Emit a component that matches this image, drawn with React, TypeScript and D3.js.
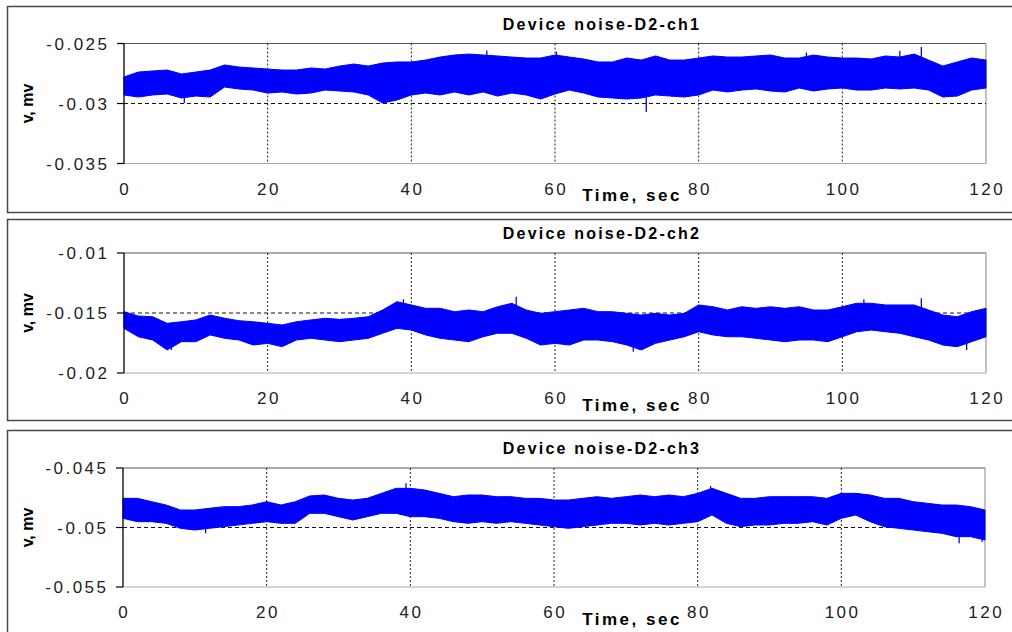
import React from "react";
import * as d3 from "d3";

// sample times (sec) of the envelope readings
const TIMES = [0, 2, 4, 6, 8, 10, 12, 14, 16, 18, 20, 22, 24, 26, 28, 30, 32, 34, 36, 38, 40, 42, 44, 46, 48, 50, 52, 54, 56, 58, 60, 62, 64, 66, 68, 70, 72, 74, 76, 78, 80, 82, 84, 86, 88, 90, 92, 94, 96, 98, 100, 102, 104, 106, 108, 110, 112, 114, 116, 118, 120];

// channel 1 upper / lower noise envelope (mV)
const CH1_HI = [-0.02779, -0.02738, -0.02729, -0.02721, -0.02754, -0.02738, -0.02721, -0.02679, -0.02696, -0.02704, -0.02713, -0.02721, -0.02721, -0.02704, -0.02713, -0.02688, -0.02671, -0.02688, -0.02663, -0.02654, -0.02654, -0.02638, -0.02613, -0.02596, -0.02588, -0.02596, -0.02604, -0.02613, -0.02621, -0.02621, -0.02596, -0.02613, -0.02629, -0.02654, -0.02654, -0.02621, -0.02638, -0.02604, -0.02638, -0.02638, -0.02621, -0.02604, -0.02613, -0.02613, -0.02604, -0.02596, -0.02621, -0.02621, -0.02596, -0.02613, -0.02621, -0.02621, -0.02629, -0.02604, -0.02613, -0.02588, -0.02638, -0.02688, -0.02654, -0.02621, -0.02638];
const CH1_LO = [-0.02929, -0.02946, -0.02929, -0.02921, -0.02954, -0.02938, -0.02946, -0.02863, -0.02879, -0.02888, -0.02913, -0.02904, -0.02921, -0.02913, -0.02888, -0.02896, -0.02904, -0.02929, -0.02996, -0.02971, -0.02929, -0.02913, -0.02929, -0.02904, -0.02929, -0.02904, -0.02938, -0.02913, -0.02929, -0.02963, -0.02921, -0.02888, -0.02913, -0.02946, -0.02954, -0.02963, -0.02954, -0.02929, -0.02938, -0.02946, -0.02929, -0.02888, -0.02904, -0.02888, -0.02879, -0.02896, -0.02904, -0.02871, -0.02896, -0.02879, -0.02871, -0.02888, -0.02888, -0.02871, -0.02879, -0.02871, -0.02888, -0.02946, -0.02938, -0.02888, -0.02871];
// isolated spikes: [time, value]
const CH1_SPIKES: [number, number][] = [[8.4, -0.02996], [50.5, -0.02558], [60.2, -0.02567], [72.7, -0.03071], [95, -0.02575], [108, -0.02563], [111, -0.02529]];

// channel 2
const CH2_HI = [-0.01489, -0.01525, -0.01531, -0.01586, -0.01573, -0.01558, -0.01517, -0.01544, -0.01564, -0.01573, -0.01586, -0.016, -0.01573, -0.01558, -0.01544, -0.01553, -0.01544, -0.01531, -0.01475, -0.01406, -0.01433, -0.01461, -0.01461, -0.01489, -0.01475, -0.01489, -0.01448, -0.01419, -0.01475, -0.01503, -0.01489, -0.01475, -0.01461, -0.01489, -0.01489, -0.01503, -0.01517, -0.01503, -0.01517, -0.01503, -0.01433, -0.01448, -0.01475, -0.01448, -0.01461, -0.01448, -0.01461, -0.01448, -0.01475, -0.01475, -0.01448, -0.01419, -0.01419, -0.01433, -0.01433, -0.01433, -0.01475, -0.01517, -0.01531, -0.01489, -0.01461];
const CH2_LO = [-0.01628, -0.01698, -0.01725, -0.01808, -0.01739, -0.01739, -0.01683, -0.01711, -0.01725, -0.01767, -0.01753, -0.01781, -0.01725, -0.01711, -0.01725, -0.01739, -0.01725, -0.01711, -0.01669, -0.01628, -0.01642, -0.01683, -0.01711, -0.01725, -0.01739, -0.01698, -0.01669, -0.01669, -0.01711, -0.01767, -0.01753, -0.01767, -0.01725, -0.01725, -0.01739, -0.01767, -0.01808, -0.01753, -0.01725, -0.01698, -0.01656, -0.01683, -0.01698, -0.01698, -0.01711, -0.01725, -0.01739, -0.01725, -0.01725, -0.01739, -0.01698, -0.01656, -0.01642, -0.01656, -0.01669, -0.01698, -0.01725, -0.01767, -0.01781, -0.01739, -0.01698];
const CH2_SPIKES: [number, number][] = [[6.6, -0.01808], [38.9, -0.01386], [54.6, -0.01364], [70.9, -0.01822], [103, -0.01386], [111, -0.01378], [117.3, -0.01808]];

// channel 3
const CH3_HI = [-0.04755, -0.04755, -0.04783, -0.04811, -0.04853, -0.04853, -0.04839, -0.04825, -0.04825, -0.04811, -0.04783, -0.04811, -0.04783, -0.04735, -0.04727, -0.04755, -0.04769, -0.04755, -0.04713, -0.04671, -0.04671, -0.04685, -0.04713, -0.04741, -0.04727, -0.04727, -0.04741, -0.04741, -0.04755, -0.04755, -0.04769, -0.04769, -0.04755, -0.04741, -0.04755, -0.04741, -0.04727, -0.04741, -0.04727, -0.04741, -0.04713, -0.04671, -0.04713, -0.04755, -0.04755, -0.04741, -0.04741, -0.04741, -0.04741, -0.04755, -0.04713, -0.04713, -0.04727, -0.04755, -0.04755, -0.04783, -0.04797, -0.04811, -0.04811, -0.04825, -0.04853];
const CH3_LO = [-0.04923, -0.04951, -0.04951, -0.04965, -0.05007, -0.05021, -0.05007, -0.04993, -0.04979, -0.04965, -0.04951, -0.04965, -0.04965, -0.04881, -0.04881, -0.04909, -0.04937, -0.04909, -0.04881, -0.04881, -0.04909, -0.04909, -0.04923, -0.04951, -0.04965, -0.04951, -0.04965, -0.04951, -0.04965, -0.04979, -0.04993, -0.05007, -0.04993, -0.04979, -0.04965, -0.04965, -0.04979, -0.04965, -0.04979, -0.04965, -0.04951, -0.04895, -0.04965, -0.04993, -0.04979, -0.04979, -0.04965, -0.04965, -0.04951, -0.04979, -0.04923, -0.04895, -0.04951, -0.04993, -0.05007, -0.05021, -0.05035, -0.05049, -0.05077, -0.05077, -0.05105];
const CH3_SPIKES: [number, number][] = [[11.5, -0.05049], [39.4, -0.04629], [81.8, -0.04651], [116.4, -0.05133], [119.6, -0.05119]];

const TITLES = ["Device noise-D2-ch1", "Device noise-D2-ch2", "Device noise-D2-ch3"];
const X_TICKS = [0, 20, 40, 60, 80, 100, 120];
const Y_DOMAINS: [number, number][] = [[-0.035, -0.025], [-0.02, -0.01], [-0.055, -0.045]];
const Y_TICKS = [[-0.035, -0.03, -0.025], [-0.02, -0.015, -0.01], [-0.055, -0.05, -0.045]];
const Y_TICK_LABELS = [["-0.035", "-0.03", "-0.025"], ["-0.02", "-0.015", "-0.01"], ["-0.055", "-0.05", "-0.045"]];
const X_LABEL = "Time, sec";
const Y_LABEL = "v, mv";

const SERIES = [
  { hi: CH1_HI, lo: CH1_LO, spikes: CH1_SPIKES },
  { hi: CH2_HI, lo: CH2_LO, spikes: CH2_SPIKES },
  { hi: CH3_HI, lo: CH3_LO, spikes: CH3_SPIKES },
];

const LAYOUT = [
  { boxTop: 6.5, boxBottom: 212.5, top: 43.5, bottom: 163.5, left: 124, right: 986 },
  { boxTop: 219.5, boxBottom: 420.5, top: 253, bottom: 373, left: 124, right: 986 },
  { boxTop: 430.5, boxBottom: 645, top: 468, bottom: 587, left: 123, right: 985 },
];

const FONT = "'Liberation Sans', Arial, Helvetica, sans-serif";

function Panel({ idx }: { idx: number }) {
  const L = LAYOUT[idx];
  const s = SERIES[idx];
  const x = d3.scaleLinear().domain([0, 120]).range([L.left, L.right]);
  const y = d3.scaleLinear().domain(Y_DOMAINS[idx]).range([L.bottom, L.top]);
  const pts = TIMES.map((t, i) => ({ t, hi: s.hi[i], lo: s.lo[i] }));
  const area = d3
    .area<{ t: number; hi: number; lo: number }>()
    .x((d) => x(d.t))
    .y0((d) => y(d.lo))
    .y1((d) => y(d.hi))
    .curve(d3.curveLinear)(pts) as string;
  const midOf = (t: number) => {
    const hi = d3.scaleLinear().domain(TIMES).range(s.hi)(t);
    const lo = d3.scaleLinear().domain(TIMES).range(s.lo)(t);
    return (hi + lo) / 2;
  };
  const ticks = Y_TICKS[idx];
  const mid = ticks[1];
  return (
    <g>
      <rect x={7.5} y={L.boxTop} width={1020} height={L.boxBottom - L.boxTop} fill="#fff" stroke="#4a4a4a" strokeWidth={1.5} />
      <text x={602} y={L.top - 14} textAnchor="middle" fontFamily={FONT} fontWeight="bold" fontSize={16} letterSpacing={2.2} fill="#000">
        {TITLES[idx]}
      </text>
      {/* plot frame */}
      <line x1={L.left} x2={L.right} y1={L.top} y2={L.top} stroke="#555" strokeWidth={1.2} />
      <line x1={L.right} x2={L.right} y1={L.top} y2={L.bottom} stroke="#999" strokeWidth={1.2} />
      <line x1={L.left} x2={L.right} y1={L.bottom} y2={L.bottom} stroke="#aaa" strokeWidth={1.2} />
      {/* grid */}
      <line x1={L.left} x2={L.right} y1={y(mid)} y2={y(mid)} stroke="#111" strokeWidth={1} strokeDasharray="4,3" />
      {X_TICKS.slice(1, -1).map((t) => (
        <line key={t} x1={x(t)} x2={x(t)} y1={L.top} y2={L.bottom} stroke="#222" strokeWidth={1} strokeDasharray="2,2" />
      ))}
      {/* data */}
      <path d={area} fill="#0000ff" stroke="#0000ff" strokeWidth={1} strokeLinejoin="round" />
      {s.spikes.map(([t, v], i) => (
        <line key={i} x1={x(t)} x2={x(t)} y1={y(midOf(t))} y2={y(v)} stroke="#0000ff" strokeWidth={1.3} />
      ))}
      {/* left axis */}
      <line x1={L.left} x2={L.left} y1={L.top} y2={L.bottom} stroke="#000" strokeWidth={1.3} />
      {ticks.map((v, i) => (
        <g key={v}>
          <line x1={L.left - 7} x2={L.left} y1={y(v)} y2={y(v)} stroke="#000" strokeWidth={1.2} />
          <text x={L.left - 14.5} y={y(v)} dy="0.36em" textAnchor="end" fontFamily={FONT} fontSize={17} letterSpacing={2.5} fill="#222">
            {Y_TICK_LABELS[idx][i]}
          </text>
        </g>
      ))}
      {X_TICKS.map((t) => (
        <text key={t} x={x(t) + 1.25} y={L.bottom + 31} textAnchor="middle" fontFamily={FONT} fontSize={17} letterSpacing={2.5} fill="#222">
          {t}
        </text>
      ))}
      <text x={632} y={L.bottom + 37.5} textAnchor="middle" fontFamily={FONT} fontWeight="bold" fontSize={17} letterSpacing={2.5} fill="#000">
        {X_LABEL}
      </text>
      <text transform={`translate(33,${(L.top + L.bottom) / 2}) rotate(-90)`} textAnchor="middle" fontFamily={FONT} fontWeight="bold" fontSize={16} fill="#000">
        {Y_LABEL}
      </text>
    </g>
  );
}

export default function App() {
  return (
    <svg width={1012} height={632} style={{ position: "fixed", left: 0, top: 0, background: "#fff" }}>
      <rect x={0} y={0} width={1012} height={632} fill="#fff" />
      {[0, 1, 2].map((i) => (
        <Panel key={i} idx={i} />
      ))}
    </svg>
  );
}
